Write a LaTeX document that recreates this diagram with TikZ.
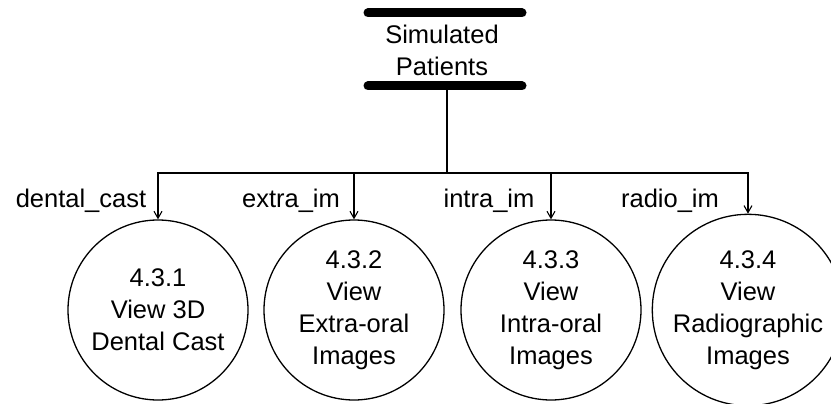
\documentclass[tikz,border=0pt]{standalone}
\usepackage{fontspec}
\setmainfont{Liberation Sans}
\usetikzlibrary{arrows.meta}
\begin{document}
\begin{tikzpicture}[x=1pt,y=-1pt,
  txt/.style={font=\fontsize{25.5}{32}\selectfont, inner sep=0pt, align=center},
  proc/.style={circle, draw, line width=1.3pt, minimum size=180pt, inner sep=0pt, align=center, font=\fontsize{25.5}{32}\selectfont},
  bar/.style={line width=9pt, line cap=round},
  conn/.style={line width=1.1pt},
  arr/.style={conn, -{Straight Barb[length=7pt,width=8pt,line width=1.1pt]}},
  lbl/.style={font=\fontsize{25.5}{32}\selectfont, inner sep=0pt, anchor=base}]
\useasboundingbox (0,0) rectangle (831,404);
\clip (0,0) rectangle (831,404);
% data store
\node[txt] (ds) at (442,50) {Simulated\\Patients};
\coordinate (bt1) at (368,13);
\coordinate (bt2) at (522,13);
\coordinate (bb1) at (368,86);
\coordinate (bb2) at (522,86);
\draw[bar] (bt1) -- (bt2);
\draw[bar] (bb1) -- (bb2);
\coordinate (dsb) at (447,86);
\coordinate (bus) at (447,173);
% processes
\node[proc] (c1) at (158,310) {4.3.1\\View 3D\\Dental Cast};
\node[proc] (c2) at (354,310) {4.3.2\\View\\Extra-oral\\Images};
\node[proc] (c3) at (551,310) {4.3.3\\View\\Intra-oral\\Images};
\node[proc] (c4) at (748,310) {4.3.4\\View\\Radiographic\\Images};
% connectors
\draw[conn] (dsb) -- (bus);
\draw[arr] (bus) -| (c1.north);
\draw[arr] (bus) -| (c2.north);
\draw[arr] (bus) -| (c3.north);
\draw[arr] (bus) -| (c4.north);
% labels
\node[lbl] (l1) at (81,207) {dental\_cast};
\node[lbl] (l2) at (291,207) {extra\_im};
\node[lbl] (l3) at (489,207) {intra\_im};
\node[lbl] (l4) at (670,207) {radio\_im};
\end{tikzpicture}
\end{document}
